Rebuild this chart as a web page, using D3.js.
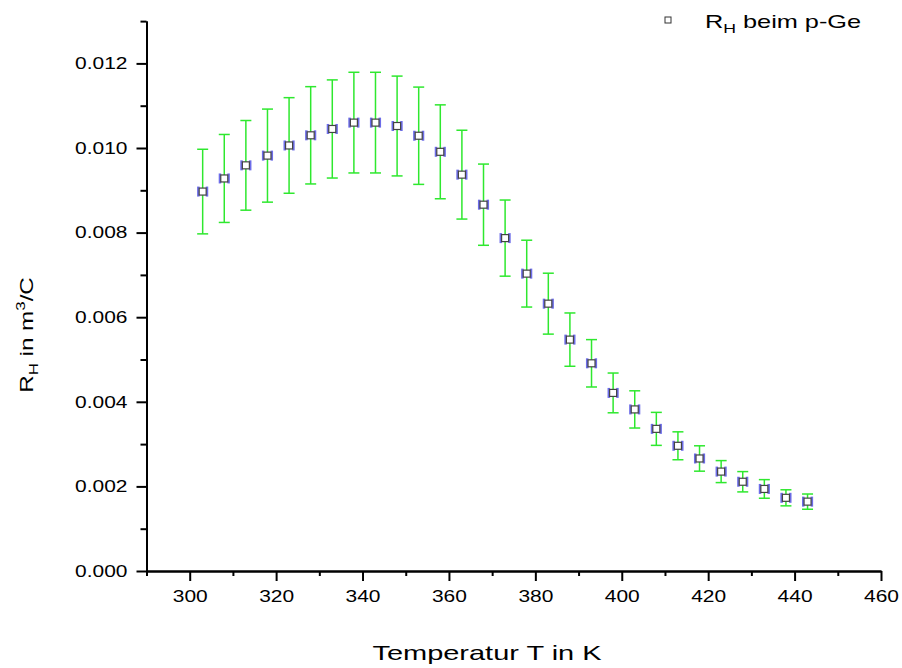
<!DOCTYPE html>
<html>
<head>
<meta charset="utf-8">
<script src="https://cdn.jsdelivr.net/npm/d3@7"></script>
<style>
  body { margin: 0; background: #fff; }
  text { font-family: "Liberation Sans", Arial, sans-serif; }
</style>
</head>
<body>
<svg id="drawing_region"></svg>
<script>
// temperature in K
const temps = [303, 308, 313, 318, 323, 328, 333, 338, 343, 348, 353, 358, 363, 368, 373,
               378, 383, 388, 393, 398, 403, 408, 413, 418, 423, 428, 433, 438, 443]
// Hall coefficient R_H in m^3/C
const rh = [0.00897, 0.00928, 0.00959, 0.00982, 0.01006, 0.01030, 0.01045, 0.01060, 0.01060,
            0.01052, 0.01029, 0.00991, 0.00937, 0.00866, 0.00787, 0.00703, 0.00632, 0.00547,
            0.00491, 0.00421, 0.00382, 0.00336, 0.00296, 0.00266, 0.00235, 0.00211, 0.00194,
            0.00173, 0.00164]
// y error
const rhErr = [0.00100, 0.00104, 0.00106, 0.00110, 0.00113, 0.00115, 0.00116, 0.00119, 0.00119,
               0.00118, 0.00115, 0.00111, 0.00105, 0.00096, 0.00090, 0.00079, 0.00072, 0.00063,
               0.00056, 0.00047, 0.00044, 0.00039, 0.00033, 0.00030, 0.00026, 0.00024, 0.00022,
               0.00019, 0.00018]
// x error in K
const tErr = 1

const xTicks = [300, 320, 340, 360, 380, 400, 420, 440, 460]
const xMinor = [290, 310, 330, 350, 370, 390, 410, 430, 450]
const yTicks = [0, 0.002, 0.004, 0.006, 0.008, 0.010, 0.012]
const yMinor = [0.001, 0.003, 0.005, 0.007, 0.009, 0.011, 0.013]

const data = temps.map((t, i) => ({t: t, v: rh[i], e: rhErr[i]}))

const width = 902, height = 668
const svg = d3.select('#drawing_region').attr('width', width).attr('height', height)

const xscale = d3.scaleLinear().domain([290, 460]).range([146.5, 881])
const yscale = d3.scaleLinear().domain([0, 0.013]).range([571, 21.1])

// the original font is wide, so texts get stretched along x
const sx = 1.27

const xaxis = d3.axisBottom(xscale).tickValues(xTicks).tickSize(10).tickPadding(9).tickSizeOuter(0)
const xaxisMinor = d3.axisBottom(xscale).tickValues(xMinor).tickSize(5).tickFormat('').tickSizeOuter(0)
const yaxis = d3.axisLeft(yscale).tickValues(yTicks).tickSize(10).tickPadding(9)
    .tickFormat(d3.format('.3f')).tickSizeOuter(0)
const yaxisMinor = d3.axisLeft(yscale).tickValues(yMinor).tickSize(6).tickFormat('').tickSizeOuter(0)

const styleAxis = g => {
    g.select('.domain').attr('stroke', '#000').attr('stroke-width', 2)
    g.selectAll('.tick line').attr('stroke', '#000').attr('stroke-width', 2)
    g.selectAll('.tick text').attr('fill', '#000').attr('font-size', 16.5)
        .attr('font-family', '"Liberation Sans", Arial, sans-serif')
        .each(function(){
            const x = +this.getAttribute('x') || 0
            d3.select(this).attr('x', x / sx).attr('transform', `scale(${sx},1)`)
        })
}

svg.append('g').attr('transform', `translate(0,${yscale(0)})`).call(xaxisMinor).call(styleAxis)
svg.append('g').attr('transform', `translate(0,${yscale(0)})`).call(xaxis).call(styleAxis)
svg.append('g').attr('transform', `translate(${xscale(290)},0)`).call(yaxisMinor).call(styleAxis)
svg.append('g').attr('transform', `translate(${xscale(290)},0)`).call(yaxis).call(styleAxis)

// error bars (y)
const capW = 5.5
const green = '#2ee82e'
const eb = svg.append('g')
eb.selectAll('line.ev').data(data).enter().append('line')
    .attr('x1', d => xscale(d.t)).attr('x2', d => xscale(d.t))
    .attr('y1', d => yscale(d.v + d.e)).attr('y2', d => yscale(d.v - d.e))
    .attr('stroke', green).attr('stroke-width', 1.5)
eb.selectAll('line.et').data(data).enter().append('line')
    .attr('x1', d => xscale(d.t) - capW).attr('x2', d => xscale(d.t) + capW)
    .attr('y1', d => yscale(d.v + d.e)).attr('y2', d => yscale(d.v + d.e))
    .attr('stroke', green).attr('stroke-width', 1.5)
eb.selectAll('line.eb').data(data).enter().append('line')
    .attr('x1', d => xscale(d.t) - capW).attr('x2', d => xscale(d.t) + capW)
    .attr('y1', d => yscale(d.v - d.e)).attr('y2', d => yscale(d.v - d.e))
    .attr('stroke', green).attr('stroke-width', 1.5)

// error bars (x) in blue
const blue = '#3030e0'
const xb = svg.append('g').attr('opacity', 0.7)
xb.selectAll('line.xl').data(data).enter().append('line')
    .attr('x1', d => xscale(d.t - tErr)).attr('x2', d => xscale(d.t + tErr))
    .attr('y1', d => yscale(d.v)).attr('y2', d => yscale(d.v))
    .attr('stroke', blue).attr('stroke-width', 1.5)
xb.selectAll('line.xa').data(data).enter().append('line')
    .attr('x1', d => xscale(d.t - tErr)).attr('x2', d => xscale(d.t - tErr))
    .attr('y1', d => yscale(d.v) - 5).attr('y2', d => yscale(d.v) + 5)
    .attr('stroke', blue).attr('stroke-width', 2.5)
xb.selectAll('line.xc').data(data).enter().append('line')
    .attr('x1', d => xscale(d.t + tErr)).attr('x2', d => xscale(d.t + tErr))
    .attr('y1', d => yscale(d.v) - 5).attr('y2', d => yscale(d.v) + 5)
    .attr('stroke', blue).attr('stroke-width', 2.5)

// markers
const ms = 7
svg.append('g').selectAll('rect').data(data).enter().append('rect')
    .attr('x', d => xscale(d.t) - ms / 2).attr('y', d => yscale(d.v) - ms / 2)
    .attr('width', ms).attr('height', ms)
    .attr('fill', '#fff').attr('stroke', '#444').attr('stroke-width', 1.2)

// axis titles
svg.append('text')
    .attr('transform', `translate(487,660) scale(1.38,1)`)
    .attr('text-anchor', 'middle').attr('font-size', 21)
    .text('Temperatur T in K')

const ylab = svg.append('text')
    .attr('transform', `translate(33,335) rotate(-90) scale(1.3,1)`)
    .attr('text-anchor', 'middle').attr('font-size', 18.6)
ylab.append('tspan').text('R')
ylab.append('tspan').attr('font-size', 13).attr('dy', 5).text('H')
ylab.append('tspan').attr('dy', -5).text(' in m')
ylab.append('tspan').attr('font-size', 13).attr('dy', -8).text('3')
ylab.append('tspan').attr('dy', 8).text('/C')

// legend
svg.append('rect').attr('x', 665).attr('y', 17).attr('width', 6).attr('height', 6)
    .attr('fill', '#fff').attr('stroke', '#333').attr('stroke-width', 1)
const leg = svg.append('text').attr('transform', `translate(705,28) scale(1.36,1)`).attr('font-size', 18.6)
leg.append('tspan').text('R')
leg.append('tspan').attr('font-size', 13).attr('dy', 5).text('H')
leg.append('tspan').attr('dy', -5).text(' beim p-Ge')
</script>
</body>
</html>
